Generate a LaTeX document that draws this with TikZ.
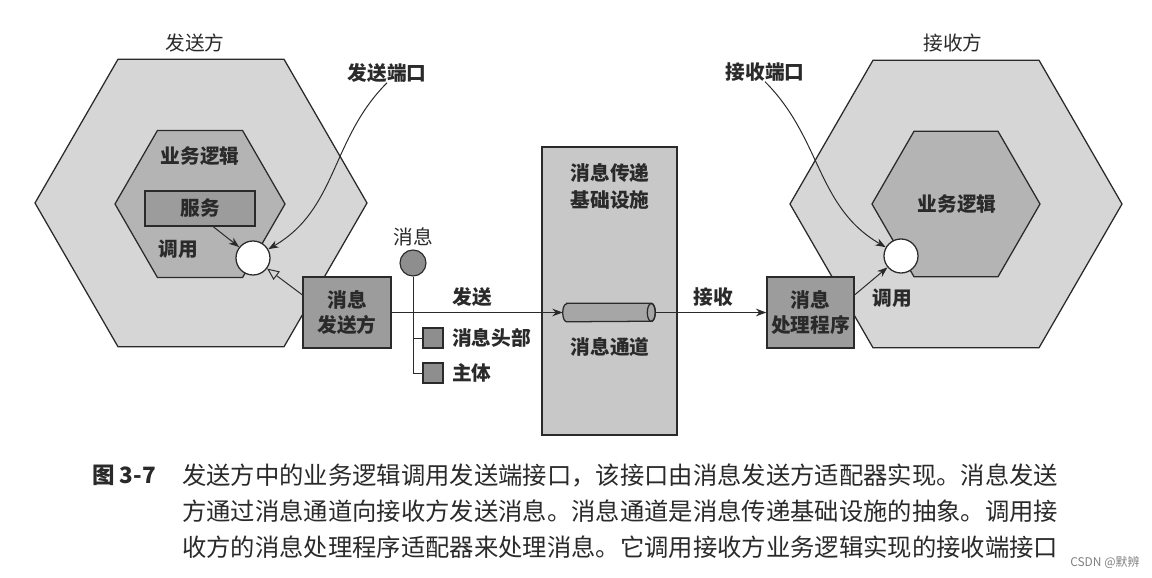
\documentclass[tikz,border=0pt]{standalone}
\usepackage{fontspec}
\setmainfont{Noto Sans CJK SC}
\usepackage{xcolor}
\usetikzlibrary{positioning, shapes.geometric, arrows.meta, calc}

\definecolor{outerhex}{HTML}{D6D6D6}
\definecolor{innerhex}{HTML}{B4B4B4}
\definecolor{boxgray}{HTML}{9C9C9C}
\definecolor{infragray}{HTML}{C8C8C8}
\definecolor{pipegray}{HTML}{A6A6A6}
\definecolor{dotgray}{HTML}{8E8E8E}
\definecolor{inkgray}{HTML}{2A2A2A}

\begin{document}
\begin{tikzpicture}[
  x=0.025cm, y=0.025cm,
  >={Stealth[length=2.6mm, width=1.9mm]},
  every node/.style={font=\fontsize{14}{17.8}\selectfont, inner sep=0pt, text=inkgray},
  hexa/.style={draw=inkgray, line width=0.9pt},
  box/.style={draw=inkgray, line width=0.9pt, fill=boxgray, align=center, font=\fontsize{14}{17.8}\selectfont\bfseries},
  port/.style={draw=inkgray, circle, fill=white, line width=0.9pt, minimum size=0.85cm},
  part/.style={draw=inkgray, fill=dotgray, minimum size=0.5cm, line width=0.8pt},
  lbl/.style={font=\fontsize{14}{17.8}\selectfont\bfseries},
  link/.style={draw=inkgray, line width=0.7pt},
  caption/.style={anchor=west, font=\fontsize{17.3}{20}\selectfont}
]
\fill[white] (0,0) rectangle (1152,-578);
\useasboundingbox (0,0) rectangle (1152,-578);

% Hexagons
\draw[hexa, fill=outerhex] (35,-203) -- ++(60:166) -- ++(0:166) -- ++(-60:166) -- ++(-120:166) -- ++(180:166) -- cycle;
\draw[hexa, fill=innerhex] (115,-204) -- ++(60:85) -- ++(0:85) -- ++(-60:85) -- ++(-120:85) -- ++(180:85) -- cycle;
\draw[hexa, fill=outerhex] (790,-204) -- ++(60:166) -- ++(0:166) -- ++(-60:166) -- ++(-120:166) -- ++(180:166) -- cycle;
\draw[hexa, fill=innerhex] (872,-204) -- ++(60:84) -- ++(0:84) -- ++(-60:84) -- ++(-120:84) -- ++(180:84) -- cycle;

% Sender side
\node (sendside) at (195,-43) {发送方};
\node[lbl] (sendportlbl) at (387,-73) {发送端口};
\node[lbl] (bizl) at (200,-156) {业务逻辑};
\node[box, minimum width=2.75cm, minimum height=0.875cm] (svc) at (200,-208.5) {服务};
\node[lbl] (calll) at (178,-249) {调用};
\node[port] (sendport) at (253,-258) {};
\node[box, minimum width=2.2cm, minimum height=1.775cm] (sender) at (347,-312.5) {消息\\发送方};

% Message
\node (msglbl) at (413,-237) {消息};
\node[draw=inkgray, circle, fill=dotgray, line width=0.8pt, minimum size=0.65cm] (msg) at (413,-263) {};
\node[part] (head) at (433,-338) {};
\node[part] (body) at (433,-373) {};
\node[lbl, anchor=west] (headlbl) at (452,-338) {消息头部};
\node[lbl, anchor=west] (bodylbl) at (452,-373) {主体};
\node[lbl] (sendlbl) at (472,-297) {发送};

% Messaging infrastructure
\node[draw=inkgray, line width=0.9pt, fill=infragray, minimum width=3.375cm, minimum height=7.2cm] (infra) at (609.5,-291) {};
\node[lbl, align=center, font=\fontsize{14}{19}\selectfont\bfseries] (infralbl) at (610,-186.5) {消息传递\\基础设施};
\node[minimum width=2.3cm, minimum height=0.45cm] (pipe) at (609,-312.5) {};
\draw[draw=inkgray, line width=0.9pt, fill=pipegray] ([xshift=0.1cm]pipe.north west) -- ([xshift=-0.1cm]pipe.north east)
  arc[start angle=90, end angle=-90, x radius=0.1cm, y radius=0.225cm] -- ([xshift=0.1cm]pipe.south west)
  arc[start angle=270, end angle=90, x radius=0.1cm, y radius=0.225cm] -- cycle;
\draw[draw=inkgray, line width=0.9pt] ([xshift=-0.1cm]pipe.east) ellipse [x radius=0.1cm, y radius=0.225cm];
\node[lbl] (pipelbl) at (610,-347) {消息通道};

% Receiver side
\node (recvside) at (953,-43) {接收方};
\node[lbl] (recvportlbl) at (765,-72) {接收端口};
\node[lbl] (recvlbl) at (713,-297) {接收};
\node[box, minimum width=2.175cm, minimum height=1.775cm] (handler) at (810.5,-312.5) {消息\\处理程序};
\node[lbl] (bizr) at (957,-204) {业务逻辑};
\node[port] (recvport) at (901,-256) {};
\node[lbl] (callr) at (892,-298) {调用};

% Connectors
\draw[link, ->] ([xshift=0.33cm]svc.south) -- (sendport);
\draw[link, ->] (sendportlbl.south) to[out=-135, in=30] (sendport);
\draw[link, -{Triangle[open, length=3mm, width=2.6mm]}] ([yshift=0.44cm]sender.west) -- (sendport);
\draw[link] (msg.south) |- (body.west);
\draw[link] (msg.south |- head.west) -- (head.west);
\draw[link, ->] (sender.east) -- (pipe.west);
\draw[link, ->] (pipe.east) -- (handler.west);
\draw[link, ->] ([yshift=0.44cm]handler.east) -- (recvport);
\draw[link, ->] (recvportlbl.south) to[out=-45, in=150] (recvport);

% Caption
\node[anchor=east, font=\fontsize{16}{20}\selectfont\bfseries] (figno) at (156,-475) {图 3-7};
\node[caption] (capa) at (182,-475) {发送方中的业务逻辑调用发送端接口，该接口由消息发送方适配器实现。消息发送};
\node[caption] (capb) at (182,-511) {方通过消息通道向接收方发送消息。消息通道是消息传递基础设施的抽象。调用接};
\node[caption] (capc) at (182,-547) {收方的消息处理程序适配器来处理消息。它调用接收方业务逻辑实现的接收端接口};
\node[anchor=west, font=\fontsize{8.5}{10}\selectfont, text=gray] (mark) at (1070,-563) {CSDN @默辨};
\end{tikzpicture}
\end{document}
